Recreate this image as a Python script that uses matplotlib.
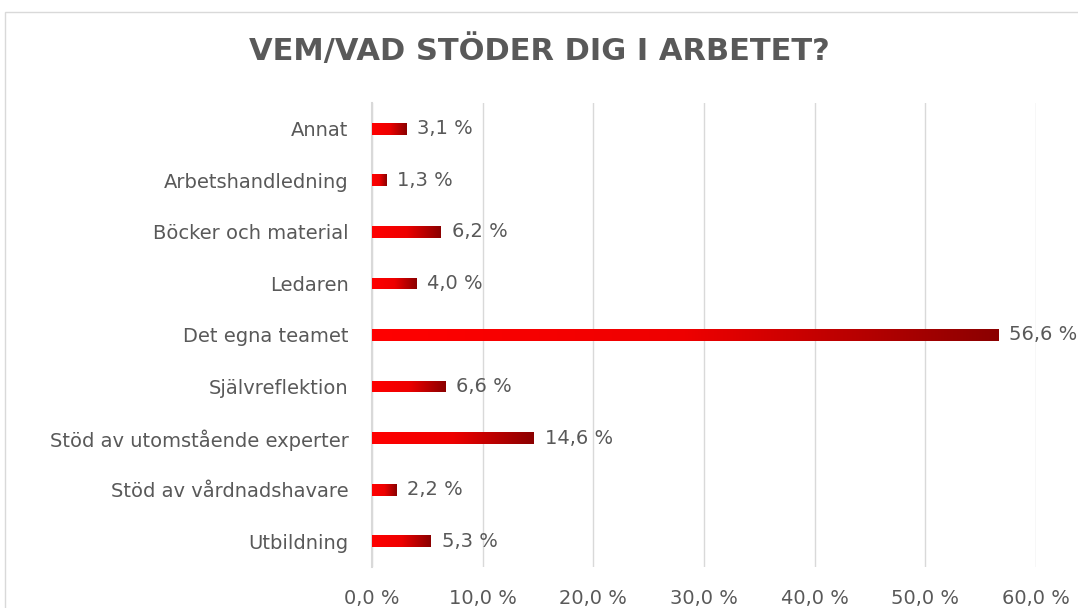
import numpy as np
import matplotlib.pyplot as plt
from matplotlib.colors import LinearSegmentedColormap
from matplotlib.patches import Rectangle

# Data
kategorier = ['Annat', 'Arbetshandledning', 'Böcker och material', 'Ledaren',
              'Det egna teamet', 'Självreflektion', 'Stöd av utomstående experter',
              'Stöd av vårdnadshavare', 'Utbildning']
andel = [3.1, 1.3, 6.2, 4.0, 56.6, 6.6, 14.6, 2.2, 5.3]
xticks = [0, 10, 20, 30, 40, 50, 60]

grey = '#595959'
fig = plt.figure(figsize=(10.78, 6.08), dpi=100)
# ram runt diagrammet (fortsätter utanför bilden till höger och nedåt)
fig.patches.append(Rectangle((5 / 1078, -0.1), 1.2, 1 - 12 / 608 + 0.1,
                             transform=fig.transFigure, fill=False,
                             edgecolor='#d9d9d9', lw=1))
ax = fig.add_axes([372 / 1078, 1 - 567 / 608, (1036 - 372) / 1078, (567 - 103) / 608])

cmap = LinearSegmentedColormap.from_list('rod', ['#ff0000', '#ee0000', '#8b0000'])
grad = np.linspace(0, 1, 256).reshape(1, -1)
y = np.arange(len(kategorier))
h = 0.23
bars = ax.barh(y, andel, height=h, color='none', edgecolor='none', zorder=3)
for b, v in zip(bars, andel):
    im = ax.imshow(grad, cmap=cmap, aspect='auto', zorder=3,
                   extent=[0, v, b.get_y(), b.get_y() + h])
    im.set_clip_path(b)
    ax.text(v + 1.0, b.get_y() + h / 2, f'{v:.1f} %'.replace('.', ','),
            va='center', ha='left', fontsize=14, color=grey)

ax.set_xlim(0, 60)
ax.set_ylim(len(kategorier) - 0.5, -0.5)
ax.set_xticks(xticks)
ax.set_xticklabels([f'{t:.1f} %'.replace('.', ',') for t in xticks])
ax.set_yticks(y)
ax.set_yticklabels(kategorier)
ax.tick_params(axis='both', length=0, labelsize=14, labelcolor=grey)
ax.tick_params(axis='x', pad=16)
ax.tick_params(axis='y', pad=17)
ax.grid(axis='x', color='#d9d9d9', lw=1, zorder=0)
for s in ['top', 'right', 'bottom']:
    ax.spines[s].set_visible(False)
ax.spines['left'].set_color('#d9d9d9')
ax.spines['left'].set_linewidth(1.5)

fig.text(0.5, 1 - 50 / 608, 'VEM/VAD STÖDER DIG I ARBETET?', ha='center', va='center',
         fontsize=22, fontweight='bold', color=grey)

fig.savefig('out.png', dpi=100)
